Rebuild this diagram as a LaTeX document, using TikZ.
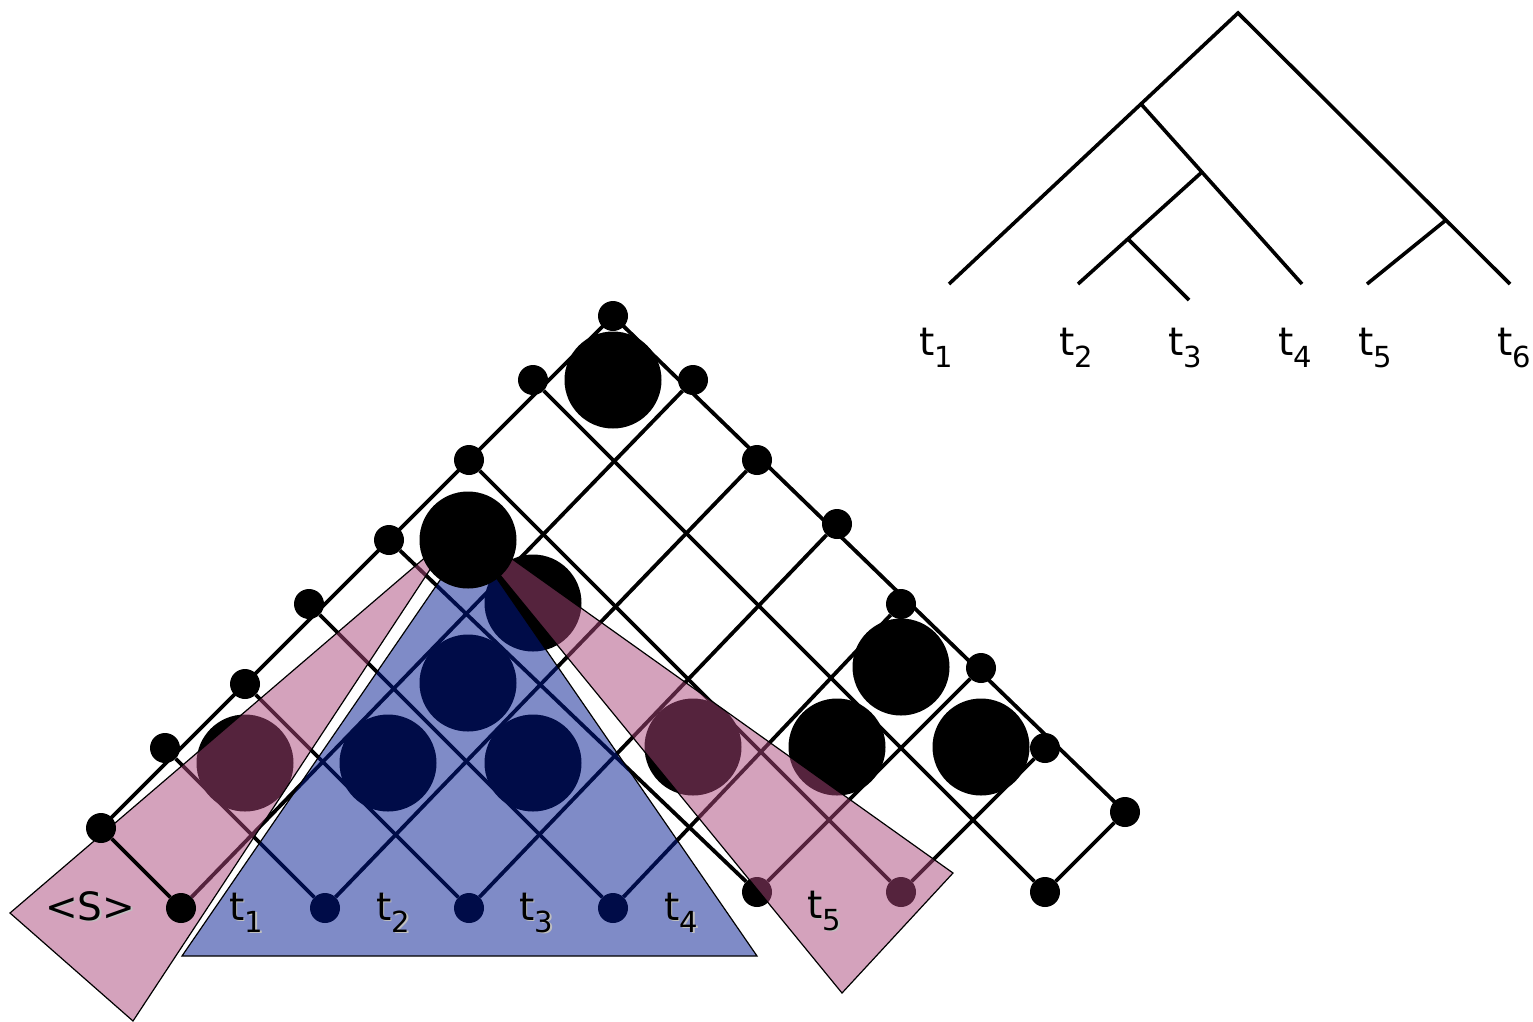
\documentclass[tikz,border=0pt]{standalone}
\usepackage{fontspec}
\setmainfont{DejaVu Sans}
\usetikzlibrary{calc}
\pgfdeclarelayer{front}
\pgfsetlayers{main,front}
\definecolor{ovblue}{RGB}{0,24,144}
\definecolor{ovpink}{RGB}{170,70,122}
\newcommand\sbs[1]{\raisebox{-12pt}{\fontsize{29}{29}\selectfont #1}}
\newcommand\shd[1]{\makebox[0pt][l]{\hspace{1.6pt}\raisebox{-1.6pt}{\textcolor{black!25}{#1}}}#1}
\begin{document}
\begin{tikzpicture}[x=1pt,y=-1pt,
  dot/.style={circle,fill=black,inner sep=0pt,minimum size=30pt},
  bigdot/.style={circle,fill=black,inner sep=0pt,minimum size=97pt},
  gridline/.style={line width=3.8pt},
  treeline/.style={line width=3.6pt},
  lbl/.style={anchor=base west,inner sep=0pt,font=\fontsize{39}{41}\selectfont},
  ovline/.style={draw=black,line width=1.2pt,fill opacity=0.5}
]
\useasboundingbox (0,0) rectangle (1533,1021);

% ---------- lattice dots ----------
\node[dot] (T)  at (613,316) {};
\node[dot] (L1) at (533,380) {};
\node[dot] (L2) at (469,460) {};
\node[dot] (L3) at (389,540) {};
\node[dot] (L4) at (309,604) {};
\node[dot] (L5) at (245,684) {};
\node[dot] (L6) at (165,748) {};
\node[dot] (R1) at (693,380) {};
\node[dot] (R2) at (757,460) {};
\node[dot] (R3) at (837,524) {};
\node[dot] (R4) at (901,604) {};
\node[dot] (R5) at (981,668) {};
\node[dot] (R6) at (1045,748) {};
\node[dot] (R7) at (1125,812) {};
\node[dot] (B2) at (325,908) {};
\node[dot] (B3) at (469,908) {};
\node[dot] (B4) at (613,908) {};
\node[dot] (B5) at (757,892) {};
\node[dot] (B6) at (901,892) {};
\node[dot] (B7) at (1045,892) {};

% ---------- big circles ----------
\node[bigdot] (C1)  at (613,380) {};
\node[bigdot] (C2)  at (533,603) {};
\node[bigdot] (C3)  at (468,683) {};
\node[bigdot] (C4)  at (388,763) {};
\node[bigdot] (C5)  at (533,763) {};
\node[bigdot] (C6)  at (245,763) {};
\node[bigdot] (C7)  at (693,747) {};
\node[bigdot] (C8)  at (837,747) {};
\node[bigdot] (C9)  at (901,667) {};
\node[bigdot] (C10) at (981,747) {};

% ---------- front items (drawn above overlays) ----------
\begin{pgfonlayer}{front}
  \node[dot] (L7) at (101,828) {};
  \node[dot] (B1) at (181,908) {};
  \node[bigdot] (C0) at (468,540) {};
  \draw[gridline] (L7) -- (B1);
\end{pgfonlayer}

% ---------- lattice lines ----------
\draw[gridline] (T.center) -- (L7.center);
\draw[gridline] (T.center) -- (R7.center);
\draw[gridline] (L1) -- (B7);
\draw[gridline] (L2) -- (B6);
\draw[gridline] (L3) -- (B5);
\draw[gridline] (L4) -- (B4);
\draw[gridline] (L5) -- (B3);
\draw[gridline] (L6) -- (B2);
\draw[gridline] (R1) -- (B1);
\draw[gridline] (R2) -- (B2);
\draw[gridline] (R3) -- (B3);
\draw[gridline] (R4) -- (B4);
\draw[gridline] (R5) -- (B5);
\draw[gridline] (R6) -- (B6);
\draw[gridline] (R7) -- (B7);

% ---------- overlays ----------
\filldraw[ovline,fill=ovblue] (469,538) -- (182,956) -- (757,956) -- cycle;
\filldraw[ovline,fill=ovpink] (10,913) -- (133,1021) -- (435,562) -- (428,555) -- cycle;
\filldraw[ovline,fill=ovpink] (953,873) -- (842,993) -- (500,575) -- (508,556) -- cycle;

% ---------- lattice labels ----------
\begin{pgfonlayer}{front}
  \node[lbl] (lS)  at (45,920)  {\shd{<S>}};
  \node[lbl] (lt1) at (229,920) {\shd{t\sbs{1}}};
  \node[lbl] (lt2) at (376,920) {\shd{t\sbs{2}}};
  \node[lbl] (lt3) at (519,920) {\shd{t\sbs{3}}};
  \node[lbl] (lt4) at (664,920) {\shd{t\sbs{4}}};
  \node[lbl] (lt5) at (807,918) {\shd{t\sbs{5}}};
\end{pgfonlayer}

% ---------- tree ----------
\coordinate (root) at (1238,13);
\coordinate (e1) at (949,284);
\coordinate (e6) at (1510,284);
\coordinate (n1) at (1141,104);
\coordinate (e4) at (1302,284);
\coordinate (n2) at (1202,172);
\coordinate (e2) at (1078,284);
\coordinate (n3) at (1128,239);
\coordinate (e3) at (1189,300);
\coordinate (n4) at (1446,220);
\coordinate (e5) at (1367,284);
\draw[treeline] (e1) -- (root) -- (e6);
\draw[treeline] (n1) -- (e4);
\draw[treeline] (n2) -- (e2);
\draw[treeline] (n3) -- (e3);
\draw[treeline] (n4) -- (e5);

\node[lbl] (tt1) at (919,355)  {t\sbs{1}};
\node[lbl] (tt2) at (1059,355) {t\sbs{2}};
\node[lbl] (tt3) at (1168,355) {t\sbs{3}};
\node[lbl] (tt4) at (1278,355) {t\sbs{4}};
\node[lbl] (tt5) at (1358,355) {t\sbs{5}};
\node[lbl] (tt6) at (1497,355) {t\sbs{6}};
\end{tikzpicture}
\end{document}
